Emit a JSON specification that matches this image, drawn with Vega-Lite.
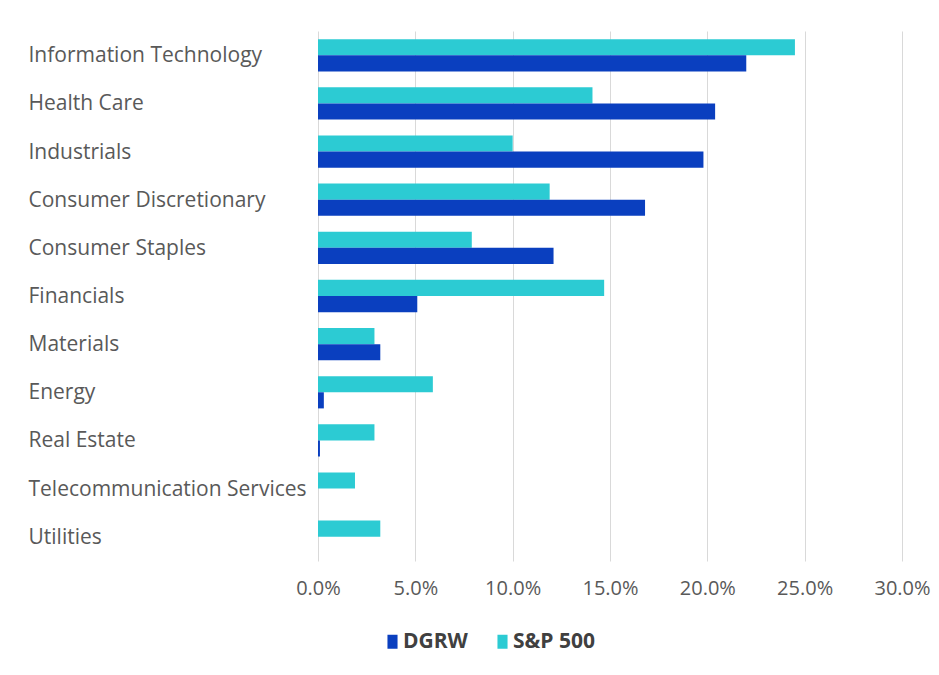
{
  "$schema": "https://vega.github.io/schema/vega-lite/v6.json",
  "autosize": "none",
  "width": 584,
  "height": 530,
  "padding": {"left": 318, "top": 31, "right": 37, "bottom": 114},
  "background": "white",
  "data": {
    "values": [
      {"sector": "Information Technology", "series": "S&P 500", "value": 0.245},
      {"sector": "Information Technology", "series": "DGRW", "value": 0.220},
      {"sector": "Health Care", "series": "S&P 500", "value": 0.141},
      {"sector": "Health Care", "series": "DGRW", "value": 0.204},
      {"sector": "Industrials", "series": "S&P 500", "value": 0.100},
      {"sector": "Industrials", "series": "DGRW", "value": 0.198},
      {"sector": "Consumer Discretionary", "series": "S&P 500", "value": 0.119},
      {"sector": "Consumer Discretionary", "series": "DGRW", "value": 0.168},
      {"sector": "Consumer Staples", "series": "S&P 500", "value": 0.079},
      {"sector": "Consumer Staples", "series": "DGRW", "value": 0.121},
      {"sector": "Financials", "series": "S&P 500", "value": 0.147},
      {"sector": "Financials", "series": "DGRW", "value": 0.051},
      {"sector": "Materials", "series": "S&P 500", "value": 0.029},
      {"sector": "Materials", "series": "DGRW", "value": 0.032},
      {"sector": "Energy", "series": "S&P 500", "value": 0.059},
      {"sector": "Energy", "series": "DGRW", "value": 0.003},
      {"sector": "Real Estate", "series": "S&P 500", "value": 0.029},
      {"sector": "Real Estate", "series": "DGRW", "value": 0.001},
      {"sector": "Telecommunication Services", "series": "S&P 500", "value": 0.019},
      {"sector": "Telecommunication Services", "series": "DGRW", "value": 0.0},
      {"sector": "Utilities", "series": "S&P 500", "value": 0.032},
      {"sector": "Utilities", "series": "DGRW", "value": 0.0}
    ]
  },
  "mark": {"type": "bar"},
  "encoding": {
    "y": {
      "field": "sector",
      "type": "nominal",
      "sort": null,
      "title": null,
      "scale": {"paddingInner": 0.33, "paddingOuter": 0.17},
      "axis": {
        "domain": false,
        "ticks": false,
        "labelAlign": "left",
        "labelPadding": 290,
        "labelFont": "Open Sans",
        "labelFontSize": 21,
        "labelColor": "#595959",
        "labelLimit": 400,
        "labelOffset": 1
      }
    },
    "x": {
      "field": "value",
      "type": "quantitative",
      "title": null,
      "scale": {"domain": [0, 0.3]},
      "axis": {
        "format": ".1%",
        "values": [0, 0.05, 0.1, 0.15, 0.2, 0.25, 0.3],
        "domain": false,
        "ticks": false,
        "grid": true,
        "gridColor": "#d9d9d9",
        "gridWidth": 1,
        "labelFlush": false,
        "labelPadding": 17,
        "labelFont": "Open Sans",
        "labelFontSize": 20,
        "labelColor": "#595959"
      }
    },
    "yOffset": {
      "field": "series",
      "type": "nominal",
      "scale": {"domain": ["S&P 500", "DGRW"]}
    },
    "color": {
      "field": "series",
      "type": "nominal",
      "scale": {"domain": ["DGRW", "S&P 500"], "range": ["#0a3fbf", "#2ccbd3"]},
      "legend": {
        "title": null,
        "orient": "none",
        "direction": "horizontal",
        "legendX": 64,
        "legendY": 600,
        "symbolType": "M-0.72,-1L0.72,-1L0.72,1L-0.72,1Z",
        "symbolSize": 196,
        "symbolStrokeWidth": 0,
        "symbolOpacity": 1,
        "labelFont": "Open Sans",
        "labelFontSize": 21,
        "labelFontWeight": "bold",
        "labelColor": "#404040",
        "columnPadding": 24,
        "labelOffset": 0
      }
    }
  },
  "config": {"view": {"stroke": null}}
}
